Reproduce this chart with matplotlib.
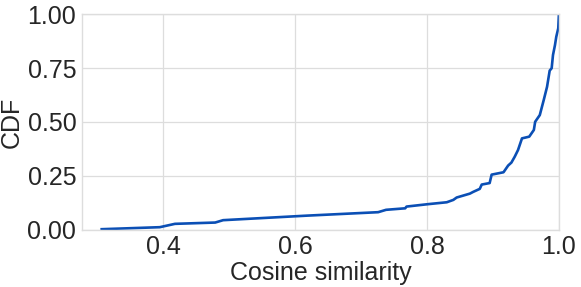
import matplotlib
matplotlib.use("Agg")
import matplotlib.pyplot as plt

plt.rcParams['font.family'] = ['Liberation Sans', 'DejaVu Sans']

sim = [0.305, 0.395, 0.418, 0.479, 0.491, 0.618, 0.726, 0.738, 0.767, 0.769,
       0.801, 0.830, 0.840, 0.845, 0.865, 0.870, 0.880, 0.883, 0.895, 0.898,
       0.916, 0.923, 0.928, 0.933, 0.938, 0.944, 0.955, 0.962, 0.964, 0.971,
       0.977, 0.982, 0.986, 0.989, 0.991, 0.994, 0.996, 0.999, 1.0]
cdf = [0.003, 0.0125, 0.028, 0.034, 0.045, 0.066, 0.082, 0.093, 0.100, 0.108,
       0.119, 0.128, 0.139, 0.150, 0.168, 0.176, 0.190, 0.210, 0.217, 0.256,
       0.267, 0.298, 0.312, 0.339, 0.370, 0.424, 0.432, 0.463, 0.501, 0.532,
       0.602, 0.663, 0.738, 0.749, 0.810, 0.856, 0.895, 0.934, 1.0]
xticks = [0.4, 0.6, 0.8, 1.0]
yticks = [0.0, 0.25, 0.5, 0.75, 1.0]

fig = plt.figure(figsize=(5.81, 2.87), dpi=100)
ax = fig.add_axes([0.141, 0.199, 0.821, 0.752])
ax.plot(sim, cdf, color='#0b4fb5', lw=1.9, solid_capstyle='butt')
ax.set_xlim(0.277, 1.0)
ax.set_ylim(0, 1)
ax.set_xticks(xticks)
ax.set_xticklabels([f"{t:.1f}" for t in xticks])
ax.set_yticks(yticks)
ax.set_yticklabels([f"{t:.2f}" for t in yticks])
ax.grid(True, color='#dddddd', lw=0.9)
ax.set_axisbelow(True)
for s in ax.spines.values():
    s.set_color('#dddddd')
    s.set_linewidth(1.0)
ax.tick_params(length=0, labelsize=18, colors='#262626', pad=4)
ax.set_xlabel('Cosine similarity', fontsize=18, color='#262626', labelpad=1)
ax.set_ylabel('CDF', fontsize=18, color='#262626', labelpad=3)
fig.savefig('out.png', dpi=100)
